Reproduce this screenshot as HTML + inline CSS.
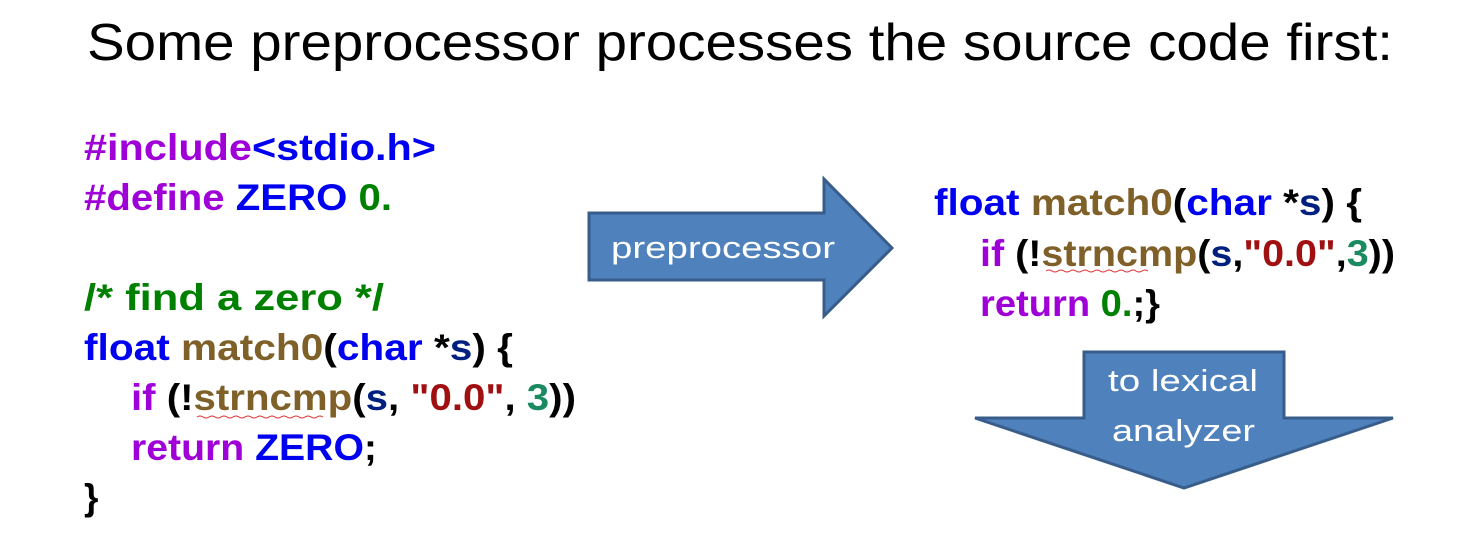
<!DOCTYPE html>
<html><head><meta charset="utf-8"><style>
html,body{margin:0;padding:0;background:#fff;}
svg{display:block;}
.c{font-family:"Liberation Sans",sans-serif;font-weight:bold;font-size:37px;}
</style></head><body>
<svg width="1470" height="546" viewBox="0 0 1470 546" xmlns="http://www.w3.org/2000/svg">
<text x="87" y="60" font-family="Liberation Sans, sans-serif" font-size="52" fill="#000" textLength="1306" lengthAdjust="spacingAndGlyphs">Some preprocessor processes the source code first:</text>

<g class="c">
<text x="84" y="160" textLength="352" lengthAdjust="spacingAndGlyphs"><tspan fill="#A000D8">#include</tspan><tspan fill="#0000F0">&lt;stdio.h&gt;</tspan></text>
<text x="84" y="210" textLength="308" lengthAdjust="spacingAndGlyphs"><tspan fill="#A000D8">#define </tspan><tspan fill="#0000F0">ZERO </tspan><tspan fill="#008000">0.</tspan></text>
<text x="84" y="310" textLength="300" lengthAdjust="spacingAndGlyphs" fill="#008000">/* find a zero */</text>
<text x="84" y="360" textLength="429" lengthAdjust="spacingAndGlyphs"><tspan fill="#0000F0">float </tspan><tspan fill="#7F6028">match0</tspan><tspan fill="#000">(</tspan><tspan fill="#0000F0">char </tspan><tspan fill="#000">*</tspan><tspan fill="#002080">s</tspan><tspan fill="#000">) {</tspan></text>
<text x="131" y="410" textLength="445" lengthAdjust="spacingAndGlyphs"><tspan fill="#A000D8">if </tspan><tspan fill="#000">(!</tspan><tspan fill="#7F6028">strncmp</tspan><tspan fill="#000">(</tspan><tspan fill="#002080">s</tspan><tspan fill="#000">, </tspan><tspan fill="#A01010">"0.0"</tspan><tspan fill="#000">, </tspan><tspan fill="#1A8A60">3</tspan><tspan fill="#000">))</tspan></text>
<text x="131" y="460" textLength="246" lengthAdjust="spacingAndGlyphs"><tspan fill="#A000D8">return </tspan><tspan fill="#0000F0">ZERO</tspan><tspan fill="#000">;</tspan></text>
<text x="84" y="510" fill="#000">}</text>
</g>
<path d="M197 417 q3 -2 6 0 t6 0 t6 0 t6 0 t6 0 t6 0 t6 0 t6 0 t6 0 t6 0 t6 0 t6 0 t6 0 t6 0 t6 0 t6 0 t6 0 t6 0 t6 0 t6 0 t6 0" stroke="#e03030" stroke-width="1" fill="none"/>

<polygon points="589,213 824,213 824,179 892,248 824,316 824,280 589,280" fill="#4F81BD" stroke="#385D8A" stroke-width="3"/>
<text x="611" y="258" font-family="Liberation Sans, sans-serif" font-size="31" fill="#fff" textLength="224" lengthAdjust="spacingAndGlyphs">preprocessor</text>

<g class="c">
<text x="934" y="215" textLength="428" lengthAdjust="spacingAndGlyphs"><tspan fill="#0000F0">float </tspan><tspan fill="#7F6028">match0</tspan><tspan fill="#000">(</tspan><tspan fill="#0000F0">char </tspan><tspan fill="#000">*</tspan><tspan fill="#002080">s</tspan><tspan fill="#000">) {</tspan></text>
<text x="980" y="266" textLength="415" lengthAdjust="spacingAndGlyphs"><tspan fill="#A000D8">if </tspan><tspan fill="#000">(!</tspan><tspan fill="#7F6028">strncmp</tspan><tspan fill="#000">(</tspan><tspan fill="#002080">s</tspan><tspan fill="#000">,</tspan><tspan fill="#A01010">"0.0"</tspan><tspan fill="#000">,</tspan><tspan fill="#1A8A60">3</tspan><tspan fill="#000">))</tspan></text>
<text x="980" y="316" textLength="180" lengthAdjust="spacingAndGlyphs"><tspan fill="#A000D8">return </tspan><tspan fill="#008000">0.</tspan><tspan fill="#000">;}</tspan></text>
</g>
<path d="M1046 271 q3 -2 6 0 t6 0 t6 0 t6 0 t6 0 t6 0 t6 0 t6 0 t6 0 t6 0 t6 0 t6 0 t6 0 t6 0 t6 0 t6 0 t6 0" stroke="#e03030" stroke-width="1" fill="none"/>

<polygon points="1084,352 1284,352 1284,418 1393,418 1184,488 975,418 1084,418" fill="#4F81BD" stroke="#385D8A" stroke-width="3"/>
<text x="1108" y="391" font-family="Liberation Sans, sans-serif" font-size="31" fill="#fff" textLength="150" lengthAdjust="spacingAndGlyphs">to lexical</text>
<text x="1112" y="441" font-family="Liberation Sans, sans-serif" font-size="31" fill="#fff" textLength="143" lengthAdjust="spacingAndGlyphs">analyzer</text>
</svg>
</body></html>
